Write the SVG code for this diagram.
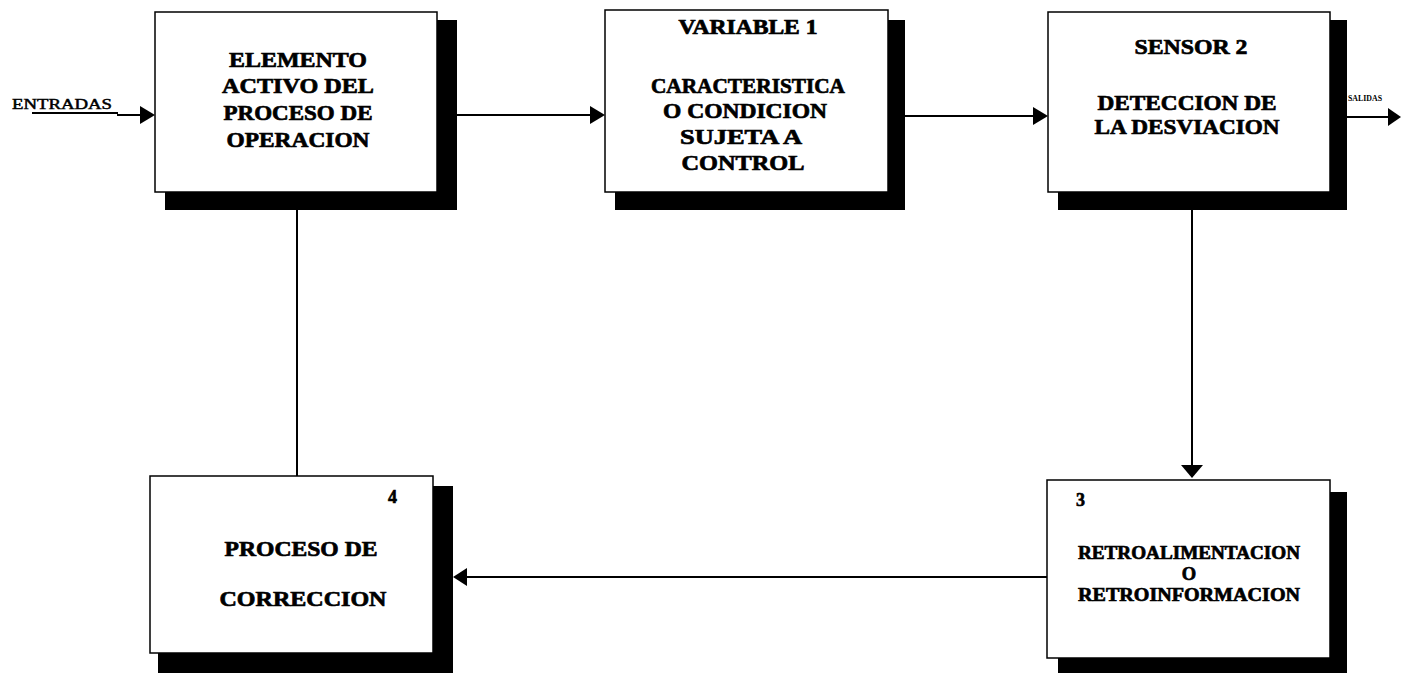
<svg xmlns="http://www.w3.org/2000/svg" width="1405" height="676" viewBox="0 0 1405 676">
  <defs>
    <style>
      .shadow { fill: #000; }
      .box { fill: #fff; stroke: #000; stroke-width: 1.5; }
      .lbl { font-family: "Liberation Serif", "Times New Roman", serif; font-weight: bold; font-size: 22px; fill: #000; stroke: #000; stroke-width: 0.7; text-anchor: middle; }
      .lbl.mid { font-size: 20px; }
      .lbl.fb { font-size: 18.5px; }
      .num { font-family: "Liberation Serif", "Times New Roman", serif; font-weight: bold; font-size: 18px; fill: #000; stroke: #000; stroke-width: 0.6; }
      .tiny { font-family: "Liberation Serif", "Times New Roman", serif; font-weight: bold; font-size: 8px; fill: #000; }
      .plain { font-family: "Liberation Serif", "Times New Roman", serif; font-weight: normal; font-size: 15px; fill: #000; stroke: #000; stroke-width: 0.5; }
      .wire { fill: none; stroke: #000; stroke-width: 2; }
      .head { fill: #000; }
    </style>
  </defs>
  <rect width="1405" height="676" fill="#fff"/>

  <!-- connectors -->
  <g id="connectors">
    <!-- inputs -->
    <line class="wire" x1="32" y1="113" x2="118" y2="113"/>
    <line class="wire" x1="117" y1="115" x2="141" y2="115"/>
    <polygon class="head" points="140,106 155,115 140,124"/>
    <!-- element -> variable -->
    <line class="wire" x1="457" y1="115" x2="591" y2="115"/>
    <polygon class="head" points="590,106 605,115 590,124"/>
    <!-- variable -> sensor -->
    <line class="wire" x1="905" y1="116" x2="1034" y2="116"/>
    <polygon class="head" points="1033,107 1048,116 1033,125"/>
    <!-- outputs -->
    <line class="wire" x1="1347" y1="117" x2="1389" y2="117"/>
    <polygon class="head" points="1388,108 1401,117 1388,126"/>
    <!-- sensor -> feedback -->
    <line class="wire" x1="1192" y1="210" x2="1192" y2="466"/>
    <polygon class="head" points="1181,465 1203,465 1192,478"/>
    <!-- feedback -> correction -->
    <line class="wire" x1="1047" y1="577" x2="466" y2="577"/>
    <polygon class="head" points="467,568 453,577 467,586"/>
    <!-- correction -> element -->
    <line class="wire" x1="297" y1="210" x2="297" y2="476"/>
  </g>

  <text class="plain" x="12" y="109" textLength="100" lengthAdjust="spacingAndGlyphs">ENTRADAS</text>
  <text class="tiny" x="1348" y="101" textLength="34" lengthAdjust="spacingAndGlyphs">SALIDAS</text>

  <!-- active element of the operating process -->
  <g id="elemento">
    <rect class="shadow" x="165" y="20" width="292" height="190"/>
    <rect class="box" x="155" y="12" width="282" height="180"/>
    <text class="lbl" x="298" y="67" textLength="138" lengthAdjust="spacingAndGlyphs">ELEMENTO</text>
    <text class="lbl" x="298" y="93" textLength="152" lengthAdjust="spacingAndGlyphs">ACTIVO DEL</text>
    <text class="lbl" x="298" y="120" textLength="149" lengthAdjust="spacingAndGlyphs">PROCESO DE</text>
    <text class="lbl" x="298" y="147" textLength="143" lengthAdjust="spacingAndGlyphs">OPERACION</text>
  </g>

  <!-- controlled variable -->
  <g id="variable">
    <rect class="shadow" x="615" y="20" width="290" height="190"/>
    <rect class="box" x="605" y="10" width="283" height="182"/>
    <text class="lbl mid" x="748" y="34" textLength="139" lengthAdjust="spacingAndGlyphs">VARIABLE 1</text>
    <text class="lbl" x="748" y="93" textLength="194" lengthAdjust="spacingAndGlyphs">CARACTERISTICA</text>
    <text class="lbl" x="745" y="118" textLength="164" lengthAdjust="spacingAndGlyphs">O CONDICION</text>
    <text class="lbl" x="741" y="144" textLength="122" lengthAdjust="spacingAndGlyphs">SUJETA A</text>
    <text class="lbl" x="743" y="170" textLength="123" lengthAdjust="spacingAndGlyphs">CONTROL</text>
  </g>

  <!-- sensor -->
  <g id="sensor">
    <rect class="shadow" x="1058" y="20" width="289" height="190"/>
    <rect class="box" x="1048" y="12" width="282" height="180"/>
    <text class="lbl" x="1191" y="54" textLength="113" lengthAdjust="spacingAndGlyphs">SENSOR 2</text>
    <text class="lbl" x="1187" y="110" textLength="179" lengthAdjust="spacingAndGlyphs">DETECCION DE</text>
    <text class="lbl" x="1187" y="134" textLength="185" lengthAdjust="spacingAndGlyphs">LA DESVIACION</text>
  </g>

  <!-- feedback -->
  <g id="retro">
    <rect class="shadow" x="1058" y="492" width="289" height="181"/>
    <rect class="box" x="1047" y="480" width="283" height="178"/>
    <text class="num" x="1076" y="506">3</text>
    <text class="lbl fb" x="1189" y="559" textLength="222" lengthAdjust="spacingAndGlyphs">RETROALIMENTACION</text>
    <text class="lbl fb" x="1189" y="580">O</text>
    <text class="lbl fb" x="1189" y="601" textLength="222" lengthAdjust="spacingAndGlyphs">RETROINFORMACION</text>
  </g>

  <!-- correction process -->
  <g id="correccion">
    <rect class="shadow" x="158" y="486" width="295" height="187"/>
    <rect class="box" x="150" y="476" width="283" height="177"/>
    <text class="num" x="388" y="503">4</text>
    <text class="lbl" x="301" y="556" textLength="153" lengthAdjust="spacingAndGlyphs">PROCESO DE</text>
    <text class="lbl" x="303" y="606" textLength="167" lengthAdjust="spacingAndGlyphs">CORRECCION</text>
  </g>
</svg>
